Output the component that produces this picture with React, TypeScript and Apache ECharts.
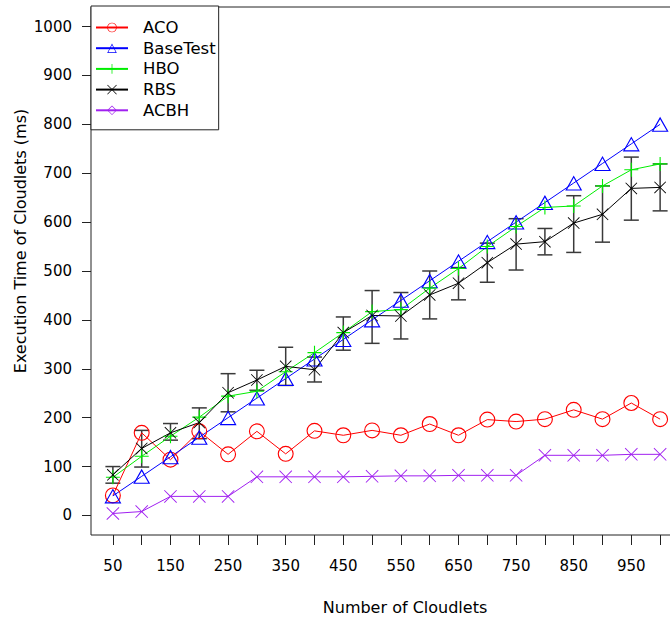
import React, { useEffect, useRef } from "react";
import * as echarts from "echarts";

const cloudlets = [50, 100, 150, 200, 250, 300, 350, 400, 450, 500, 550, 600, 650, 700, 750, 800, 850, 900, 950, 1000];
const aco = [41, 169, 114, 172, 125, 172, 126, 173, 164, 174, 164, 187, 164, 196, 192, 197, 216, 197, 230, 197];
const baseTest = [40, 80, 120, 160, 200, 240, 280, 320, 360, 400, 440, 480, 520, 560, 600, 640, 680, 720, 760, 800];
const hbo = [78, 121, 162, 201, 244, 254, 294, 333, 374, 417, 421, 465, 505, 550, 591, 630, 633, 674, 707, 719];
const rbs = [83, 137, 169, 190, 251, 277, 305, 298, 374, 409, 408, 451, 475, 517, 555, 560, 598, 616, 669, 671];
const rbsLow = [66, 99, 154, 157, 212, 256, 266, 273, 338, 352, 361, 402, 441, 477, 502, 533, 538, 559, 604, 623];
const rbsHigh = [100, 174, 188, 220, 290, 297, 344, 324, 406, 460, 456, 500, 507, 557, 607, 587, 654, 674, 733, 719];
const acbh = [4, 8, 39, 39, 39, 79, 79, 79, 79, 80, 81, 81, 82, 82, 82, 123, 123, 123, 125, 125];

const yTicks = [0, 100, 200, 300, 400, 500, 600, 700, 800, 900, 1000];
const xTicks = [50, 100, 150, 200, 250, 300, 350, 400, 450, 500, 550, 600, 650, 700, 750, 800, 850, 900, 950, 1000];
const xLabels = [50, 150, 250, 350, 450, 550, 650, 750, 850, 950];

const RING = "path://M50 0A50 50 0 1 1 50 100A50 50 0 1 1 50 0ZM50 7A43 43 0 1 0 50 93A43 43 0 1 0 50 7Z";
const TRI = "path://M50 0L100 100L0 100ZM50 15.7L11.35 93L88.65 93Z";
const PLUS = "path://M46 0H54V46H100V54H54V100H46V54H0V46H46Z";
const CROSS = "path://M0 5L5 0L50 45L95 0L100 5L55 50L100 95L95 100L50 55L5 100L0 95L45 50Z";
const DIAMOND = "path://M50 0L100 50L50 100L0 50ZM50 10L10 50L50 90L90 50Z";

const FONT = "DejaVu Sans";

function pairs(ys: number[]) {
  return cloudlets.map((x, i) => [x, ys[i]]);
}

export default function App() {
  const ref = useRef<HTMLDivElement>(null);
  useEffect(() => {
    if (!ref.current) return;
    const chart = echarts.init(ref.current, null, { renderer: "svg" });
    const errData = cloudlets.map((x, i) => [x, rbsLow[i], rbsHigh[i]]);
    const lineSeries = (name: string, data: number[], color: string, symbol: string, size: any, z = 3) => ({
      type: "line",
      name,
      data: pairs(data),
      symbol,
      symbolSize: size,
      lineStyle: { color, width: 1 },
      itemStyle: { color },
      z,
    });
    chart.setOption({
      animation: false,
      backgroundColor: "#fff",
      grid: {
        show: true,
        left: 91,
        top: 7,
        right: 38,
        bottom: 85,
        borderColor: "#222",
        borderWidth: 1,
        backgroundColor: "transparent",
      },
      legend: {
        orient: "vertical",
        left: 91,
        top: 6,
        padding: [13, 3, 11, 4],
        itemWidth: 32,
        itemHeight: 12,
        itemGap: 3.7,
        backgroundColor: "#fff",
        borderColor: "#222",
        borderWidth: 1,
        textStyle: { fontFamily: FONT, fontSize: 16.5, color: "#000", padding: [0, 0, 0, 10] },
        data: ["ACO", "BaseTest", "HBO", "RBS", "ACBH"],
        z: 10,
      },
      xAxis: {
        type: "value",
        min: 12,
        max: 1038,
        position: "bottom",
        splitLine: { show: false },
        axisLine: { show: false, onZero: false },
        axisTick: { show: true, length: 10, customValues: xTicks, lineStyle: { color: "#222" } },
        axisLabel: {
          customValues: xLabels,
          margin: 23,
          fontFamily: FONT,
          fontSize: 15,
          color: "#000",
          formatter: (v: number) => String(v),
        },
      },
      yAxis: {
        type: "value",
        min: -40,
        max: 1040,
        splitLine: { show: false },
        axisLine: { show: false, onZero: false },
        axisTick: { show: true, length: 9, customValues: yTicks, lineStyle: { color: "#222" } },
        axisLabel: {
          customValues: yTicks,
          margin: 19,
          fontFamily: FONT,
          fontSize: 15,
          color: "#000",
          formatter: (v: number) => String(v),
        },
      },
      graphic: [
        {
          type: "text",
          x: 20,
          y: 241,
          rotation: Math.PI / 2,
          style: {
            text: "Execution Time of Cloudlets (ms)",
            font: `16px "${FONT}"`,
            fill: "#000",
            align: "center",
            verticalAlign: "middle",
          },
        },
        {
          type: "text",
          x: 405,
          y: 607,
          style: {
            text: "Number of Cloudlets",
            font: `16px "${FONT}"`,
            fill: "#000",
            align: "center",
            verticalAlign: "middle",
          },
        },
      ],
      series: [
        {
          type: "custom",
          name: "RBS error",
          data: errData,
          encode: { x: 0, y: [1, 2] },
          z: 2,
          renderItem: (params: any, api: any) => {
            const x = api.value(0);
            const lo = api.coord([x, api.value(1)]);
            const hi = api.coord([x, api.value(2)]);
            const hw = 7.5;
            const st = { stroke: "#3a3a3a", lineWidth: 1.5 };
            return {
              type: "group",
              children: [
                { type: "line", shape: { x1: lo[0], y1: lo[1], x2: hi[0], y2: hi[1] }, style: st },
                { type: "line", shape: { x1: lo[0] - hw, y1: lo[1], x2: lo[0] + hw, y2: lo[1] }, style: st },
                { type: "line", shape: { x1: hi[0] - hw, y1: hi[1], x2: hi[0] + hw, y2: hi[1] }, style: st },
              ],
            };
          },
        },
        lineSeries("ACO", aco, "#ff0000", RING, 16),
        lineSeries("BaseTest", baseTest, "#0000ff", TRI, [17, 15]),
        lineSeries("HBO", hbo, "#00ee00", PLUS, 14),
        lineSeries("RBS", rbs, "#000000", CROSS, 12),
        { type: "line", name: "ACBH", data: [], symbol: DIAMOND, lineStyle: { color: "#a020f0", width: 1 }, itemStyle: { color: "#a020f0" } },
        lineSeries("ACBH", acbh, "#a020f0", CROSS, 13),
      ],
    });
    return () => chart.dispose();
  }, []);
  return (
    <div style={{ position: "fixed", left: 0, top: 0, width: 670, height: 620, overflow: "hidden", background: "#fff" }}>
      <div ref={ref} style={{ width: 720, height: 620 }} />
    </div>
  );
}
